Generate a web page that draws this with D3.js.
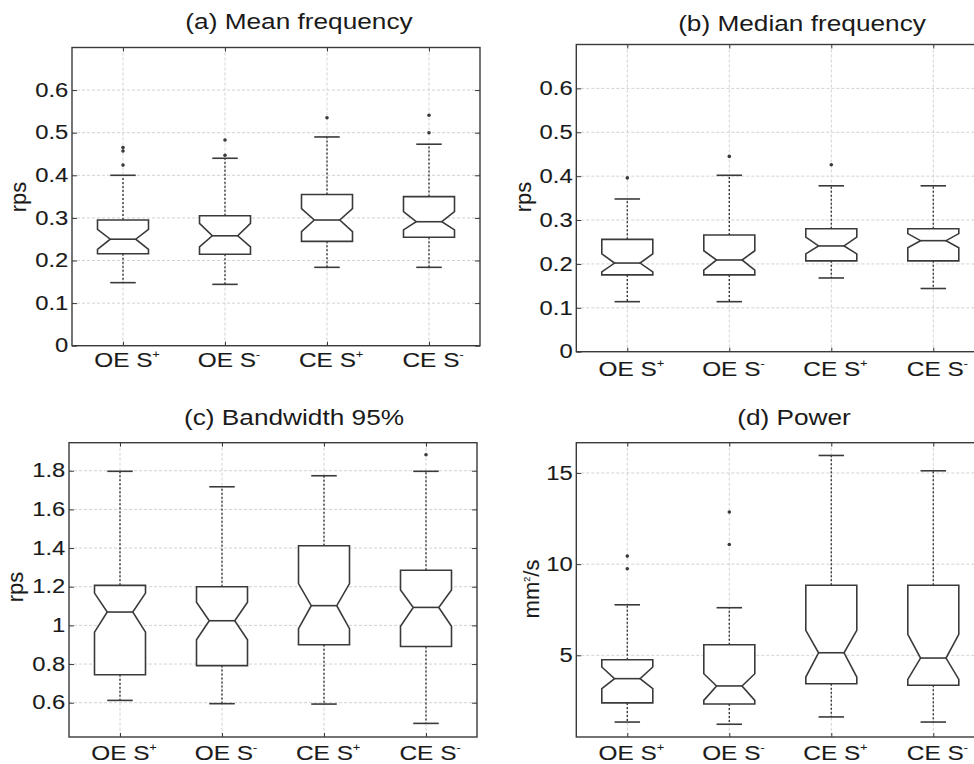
<!DOCTYPE html>
<html>
<head>
<meta charset="utf-8">
<script src="https://cdn.jsdelivr.net/npm/d3@7"></script>
<style>
  html, body { margin: 0; padding: 0; background: #fff; }
  svg { display: block; }
  text { font-family: "Liberation Sans", Arial, Helvetica, sans-serif; fill: #1a1a1a; stroke: #1a1a1a; stroke-width: 0.12px; }
</style>
</head>
<body>
<script>
// ---------- data ----------
const groups = ["OE S", "OE S", "CE S", "CE S"];
const signs = ["+", "-", "+", "-"];

// (a) Mean frequency
const meanQ1 = [0.216, 0.2145, 0.245, 0.2545];
const meanMed = [0.250, 0.258, 0.295, 0.291];
const meanQ3 = [0.295, 0.305, 0.355, 0.350];
const meanLo = [0.148, 0.144, 0.184, 0.184];
const meanHi = [0.400, 0.440, 0.490, 0.473];
const meanNotchLo = [0.226, 0.232, 0.268, 0.272];
const meanNotchHi = [0.273, 0.287, 0.322, 0.315];
const meanOut = [[0.424, 0.457, 0.465], [0.447, 0.483], [0.535], [0.500, 0.541]];
const meanTicks = [0, 0.1, 0.2, 0.3, 0.4, 0.5, 0.6];
const meanTickLabels = ["0", "0.1", "0.2", "0.3", "0.4", "0.5", "0.6"];

// (b) Median frequency
const medQ1 = [0.175, 0.175, 0.207, 0.207];
const medMed = [0.202, 0.209, 0.241, 0.253];
const medQ3 = [0.256, 0.266, 0.280, 0.280];
const medLo = [0.114, 0.114, 0.168, 0.144];
const medHi = [0.348, 0.402, 0.378, 0.378];
const medNotchLo = [0.182, 0.186, 0.223, 0.237];
const medNotchHi = [0.223, 0.230, 0.261, 0.269];
const medOut = [[0.396], [0.445], [0.426], []];
const medTicks = [0, 0.1, 0.2, 0.3, 0.4, 0.5, 0.6];
const medTickLabels = ["0", "0.1", "0.2", "0.3", "0.4", "0.5", "0.6"];

// (c) Bandwidth 95%
const bwQ1 = [0.745, 0.792, 0.900, 0.891];
const bwMed = [1.069, 1.024, 1.102, 1.093];
const bwQ3 = [1.207, 1.200, 1.412, 1.285];
const bwLo = [0.612, 0.595, 0.593, 0.493];
const bwHi = [1.797, 1.717, 1.774, 1.797];
const bwNotchLo = [0.965, 0.926, 0.983, 0.995];
const bwNotchHi = [1.167, 1.120, 1.216, 1.183];
const bwOut = [[], [], [], [1.883]];
const bwTicks = [0.6, 0.8, 1.0, 1.2, 1.4, 1.6, 1.8];
const bwTickLabels = ["0.6", "0.8", "1", "1.2", "1.4", "1.6", "1.8"];

// (d) Power
const powQ1 = [2.39, 2.33, 3.44, 3.36];
const powMed = [3.72, 3.32, 5.14, 4.85];
const powQ3 = [4.76, 5.58, 8.84, 8.84];
const powLo = [1.34, 1.22, 1.62, 1.34];
const powHi = [7.77, 7.61, 15.96, 15.12];
const powNotchLo = [3.17, 2.53, 3.81, 3.68];
const powNotchHi = [4.36, 3.99, 6.37, 6.15];
const powOut = [[9.75, 10.44], [11.08, 12.86], [], []];
const powTicks = [5, 10, 15];
const powTickLabels = ["5", "10", "15"];

// ---------- drawing ----------
const W = 974, H = 764;
const svg = d3.select("body").append("svg").attr("width", W).attr("height", H);

const LINE = "#3a3a3a";
const GRID = "#d2d2d2";
const SX = 1.22; // horizontal stretch of text in reference

function panel(cfg) {
  const g = svg.append("g");
  const x = d3.scaleLinear().domain([0.5, 4.5]).range([cfg.L, cfg.R]);
  const y = d3.scaleLinear().domain(cfg.domain).range([cfg.B, cfg.T]);
  const cats = [1, 2, 3, 4];

  // grid
  g.selectAll(".gy").data(cfg.ticks).join("line")
    .attr("x1", cfg.L).attr("x2", cfg.R)
    .attr("y1", d => y(d)).attr("y2", d => y(d))
    .attr("stroke", GRID).attr("stroke-width", 1).attr("stroke-dasharray", "3,2");
  g.selectAll(".gx").data(cats).join("line")
    .attr("x1", d => x(d)).attr("x2", d => x(d))
    .attr("y1", cfg.T).attr("y2", cfg.B)
    .attr("stroke", GRID).attr("stroke-width", 1).attr("stroke-dasharray", "3,2");

  // axes (ticks inward)
  const ay = g.append("g").attr("transform", `translate(${cfg.L},0)`)
    .call(d3.axisLeft(y).tickValues(cfg.ticks).tickSize(-5).tickPadding(3)
      .tickFormat((d, i) => cfg.tickLabels[i]));
  ay.select(".domain").remove();
  ay.selectAll("line").attr("stroke", LINE);
  ay.selectAll("text")
    .attr("font-size", 19.5)
    .attr("fill", "#1a1a1a")
    .attr("font-family", "'Liberation Sans', Arial, sans-serif")
    .attr("transform", `scale(${SX},1)`);

  const ayr = g.append("g").attr("transform", `translate(${cfg.R},0)`)
    .call(d3.axisRight(y).tickValues(cfg.ticks).tickSize(-5).tickFormat(""));
  ayr.select(".domain").remove();
  ayr.selectAll("line").attr("stroke", LINE);

  const axt = g.append("g").attr("transform", `translate(0,${cfg.T})`)
    .call(d3.axisTop(x).tickValues(cats).tickSize(-4).tickFormat(""));
  axt.select(".domain").remove();
  axt.selectAll("line").attr("stroke", LINE);
  const axb = g.append("g").attr("transform", `translate(0,${cfg.B})`)
    .call(d3.axisBottom(x).tickValues(cats).tickSize(-4).tickFormat(""));
  axb.select(".domain").remove();
  axb.selectAll("line").attr("stroke", LINE);

  // frame
  g.append("rect").attr("x", cfg.L).attr("y", cfg.T)
    .attr("width", cfg.R - cfg.L).attr("height", cfg.B - cfg.T)
    .attr("fill", "none").attr("stroke", LINE).attr("stroke-width", 1.4);

  // boxes
  const w = (x(1.25) - x(1));
  cats.forEach((c, i) => {
    const cx = x(c);
    const q1 = y(cfg.q1[i]), q3 = y(cfg.q3[i]), md = y(cfg.med[i]);
    const nl = y(cfg.nlo[i]), nh = y(cfg.nhi[i]);
    const hi = y(cfg.hi[i]), lo = y(cfg.lo[i]);
    // whiskers
    g.append("line").attr("x1", cx).attr("x2", cx).attr("y1", q3).attr("y2", hi)
      .attr("stroke", LINE).attr("stroke-width", 1.4).attr("stroke-dasharray", "2,2");
    g.append("line").attr("x1", cx).attr("x2", cx).attr("y1", q1).attr("y2", lo)
      .attr("stroke", LINE).attr("stroke-width", 1.4).attr("stroke-dasharray", "2,2");
    // caps
    [hi, lo].forEach(v => g.append("line")
      .attr("x1", cx - w / 2).attr("x2", cx + w / 2).attr("y1", v).attr("y2", v)
      .attr("stroke", LINE).attr("stroke-width", 1.6));
    // notched box
    const p = d3.path();
    p.moveTo(cx - w, q3); p.lineTo(cx + w, q3); p.lineTo(cx + w, nh);
    p.lineTo(cx + w / 2, md); p.lineTo(cx + w, nl); p.lineTo(cx + w, q1);
    p.lineTo(cx - w, q1); p.lineTo(cx - w, nl); p.lineTo(cx - w / 2, md);
    p.lineTo(cx - w, nh); p.closePath();
    g.append("path").attr("d", p.toString()).attr("fill", "#fff")
      .attr("stroke", LINE).attr("stroke-width", 1.6).attr("stroke-linejoin", "miter");
    g.append("line").attr("x1", cx - w / 2).attr("x2", cx + w / 2).attr("y1", md).attr("y2", md)
      .attr("stroke", LINE).attr("stroke-width", 1.6);
    // outliers
    cfg.out[i].forEach(v => g.append("circle").attr("cx", cx).attr("cy", y(v)).attr("r", 1.8)
      .attr("fill", LINE));
  });

  // x labels
  cats.forEach((c, i) => {
    const t = g.append("text")
      .attr("transform", `translate(${x(c) + 4},${cfg.B + cfg.xlabOff}) scale(${SX},1)`)
      .attr("text-anchor", "middle").attr("font-size", 20);
    t.append("tspan").text(groups[i]);
    t.append("tspan").attr("font-size", 10).attr("dy", -9).text(signs[i]);
  });

  // title
  svg.append("text")
    .attr("transform", `translate(${cfg.titleX},${cfg.titleY}) scale(${SX},1)`)
    .attr("text-anchor", "middle").attr("font-size", 21.5)
    .style("stroke-width", "0px").text(cfg.title);

  // y label
  const yl = svg.append("text")
    .attr("transform", `translate(${cfg.ylabX},${cfg.ylabY}) rotate(-90)`)
    .attr("text-anchor", "middle").attr("font-size", 22);
  cfg.ylab(yl);
}

panel({
  L: 72, R: 480, T: 47.5, B: 345.7, domain: [0, 0.7],
  ticks: meanTicks, tickLabels: meanTickLabels,
  q1: meanQ1, med: meanMed, q3: meanQ3, lo: meanLo, hi: meanHi,
  nlo: meanNotchLo, nhi: meanNotchHi, out: meanOut,
  xlabOff: 21, title: "(a) Mean frequency", titleX: 299, titleY: 29,
  ylabX: 26, ylabY: 197, ylab: t => t.text("rps")
});
panel({
  L: 576.3, R: 984.3, T: 44.5, B: 351.7, domain: [0, 0.7],
  ticks: medTicks, tickLabels: medTickLabels,
  q1: medQ1, med: medMed, q3: medQ3, lo: medLo, hi: medHi,
  nlo: medNotchLo, nhi: medNotchHi, out: medOut,
  xlabOff: 24, title: "(b) Median frequency", titleX: 802, titleY: 31,
  ylabX: 531, ylabY: 197, ylab: t => t.text("rps")
});
panel({
  L: 69, R: 477, T: 442.7, B: 737, domain: [0.4226, 1.945],
  ticks: bwTicks, tickLabels: bwTickLabels,
  q1: bwQ1, med: bwMed, q3: bwQ3, lo: bwLo, hi: bwHi,
  nlo: bwNotchLo, nhi: bwNotchHi, out: bwOut,
  xlabOff: 23, title: "(c) Bandwidth 95%", titleX: 294, titleY: 425,
  ylabX: 23, ylabY: 587, ylab: t => t.text("rps")
});
panel({
  L: 576.3, R: 984.3, T: 442.7, B: 737, domain: [0.52, 16.66],
  ticks: powTicks, tickLabels: powTickLabels,
  q1: powQ1, med: powMed, q3: powQ3, lo: powLo, hi: powHi,
  nlo: powNotchLo, nhi: powNotchHi, out: powOut,
  xlabOff: 23, title: "(d) Power", titleX: 794, titleY: 425,
  ylabX: 539, ylabY: 589, ylab: t => {
    t.append("tspan").text("mm");
    t.append("tspan").attr("font-size", 9).attr("dy", -9).text("2");
    t.append("tspan").attr("dy", 9).text("/s");
  }
});
</script>
</body>
</html>
